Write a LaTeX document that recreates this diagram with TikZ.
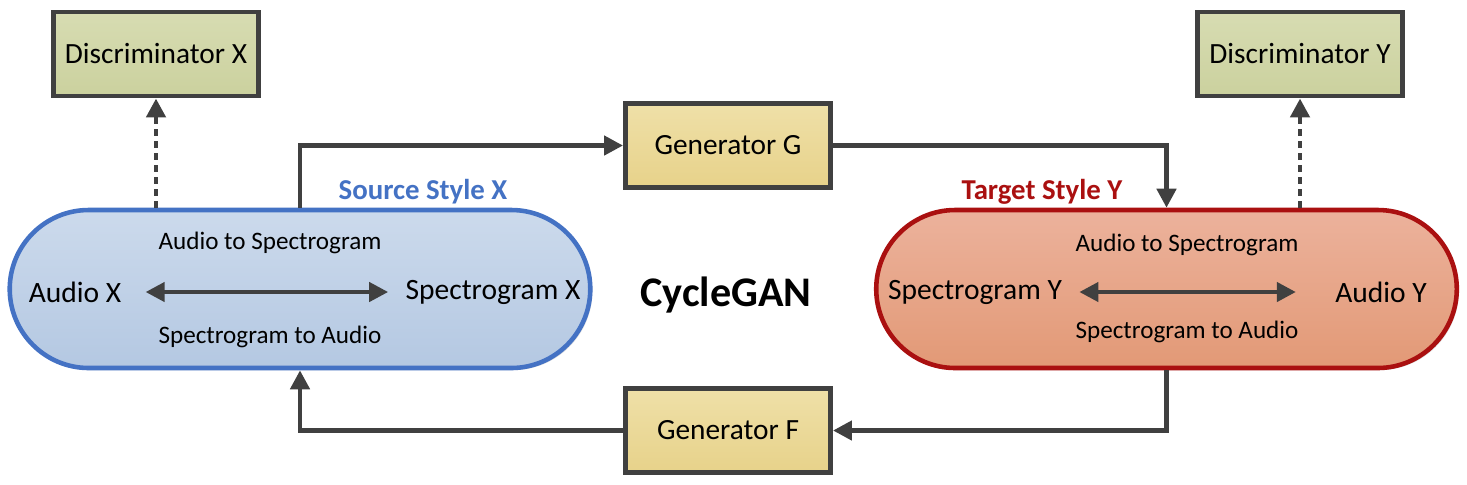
\documentclass[tikz,border=0pt]{standalone}
\usepackage{fontspec}
\setmainfont{Carlito}
\usetikzlibrary{arrows.meta,positioning,shapes.misc,shadows}
\usepackage{xcolor}
\definecolor{dark}{HTML}{404040}
\definecolor{disctop}{HTML}{D7DCB2}
\definecolor{discbot}{HTML}{CBD19E}
\definecolor{gentop}{HTML}{EFE0A8}
\definecolor{genbot}{HTML}{E7D28A}
\definecolor{srctop}{HTML}{CCDAEC}
\definecolor{srcbot}{HTML}{B4C8E2}
\definecolor{srcline}{HTML}{4472C4}
\definecolor{tgttop}{HTML}{ECB29C}
\definecolor{tgtbot}{HTML}{E29976}
\definecolor{tgtline}{HTML}{AA1010}
\tikzset{
  softshadow/.style={drop shadow={shadow xshift=0.6pt, shadow yshift=-0.6pt, fill=black, opacity=0.12}},
  box/.style={draw=dark, line width=1.4pt, align=center, minimum width=2.05cm, minimum height=0.84cm, font=\fontsize{8.35}{10}\selectfont, softshadow},
  discbox/.style={box, top color=disctop, bottom color=discbot},
  genbox/.style={box, top color=gentop, bottom color=genbot},
  capsule/.style={rounded rectangle, line width=1.3pt, minimum width=6.04cm, minimum height=1.58cm, softshadow},
  srccap/.style={capsule, draw=srcline, top color=srctop, bottom color=srcbot},
  tgtcap/.style={capsule, draw=tgtline, top color=tgttop, bottom color=tgtbot},
  txt/.style={font=\fontsize{8.4}{10}\selectfont},
  smalltxt/.style={font=\fontsize{7.15}{9}\selectfont},
  stylelabel/.style={font=\fontsize{8.2}{10}\selectfont\bfseries},
  arrow/.style={-{Triangle[length=1.9mm, width=1.9mm]}, line width=1.3pt, draw=dark},
  dblarrow/.style={{Triangle[length=1.9mm, width=1.9mm]}-{Triangle[length=1.9mm, width=1.9mm]}, line width=1.2pt, draw=dark},
  dasharrow/.style={arrow, line width=1.4pt, dash pattern=on 0.07cm off 0.05cm}
}

\begin{document}
\begin{tikzpicture}
  \useasboundingbox (0,0) rectangle (14.67,-4.84);
  % boxes
  \node[discbox] (discx) at (1.56,-0.54) {Discriminator X};
  \node[discbox] (discy) at (13.00,-0.54) {Discriminator Y};
  \node[genbox] (geng) at (7.28,-1.455) {Generator G};
  \node[genbox] (genf) at (7.28,-4.305) {Generator F};
  % style capsules
  \node[srccap] (capx) at (3.00,-2.89) {};
  \node[tgtcap] (capy) at (11.665,-2.89) {};
  \node[stylelabel, text=srcline] (srclabel) at (4.23,-1.92) {Source Style X};
  \node[stylelabel, text=tgtline] (tgtlabel) at (10.42,-1.92) {Target Style Y};
  \node[font=\fontsize{12}{14}\selectfont\bfseries] (cyclegan) at (7.26,-2.95) {CycleGAN};
  % inside source capsule
  \node[txt] (audiox) at (0.75,-2.92) {Audio X};
  \node[txt] (specx) at (4.93,-2.92) {Spectrogram X};
  \node[smalltxt] (atosx) at (2.70,-2.43) {Audio to Spectrogram};
  \node[smalltxt] (stoax) at (2.70,-3.37) {Spectrogram to Audio};
  % inside target capsule
  \node[txt] (specy) at (9.75,-2.92) {Spectrogram Y};
  \node[txt] (audioy) at (13.81,-2.92) {Audio Y};
  \node[smalltxt] (atosy) at (11.87,-2.45) {Audio to Spectrogram};
  \node[smalltxt] (stoay) at (11.87,-3.32) {Spectrogram to Audio};
  % connectors
  \draw[dblarrow, shorten <=0.12cm, shorten >=0.05cm] (audiox) -- (specx);
  \draw[dblarrow, shorten <=0.05cm, shorten >=0.27cm] (specy) -- (audioy);
  \draw[dasharrow] (discx.south |- capx.north) -- (discx.south);
  \draw[dasharrow] (discy.south |- capy.north) -- (discy.south);
  \draw[arrow] (capx.north) |- (geng.west);
  \draw[arrow] (geng.east) -| (capy.north);
  \draw[arrow] (capy.south) |- (genf.east);
  \draw[arrow] (genf.west) -| (capx.south);
\end{tikzpicture}
\end{document}
